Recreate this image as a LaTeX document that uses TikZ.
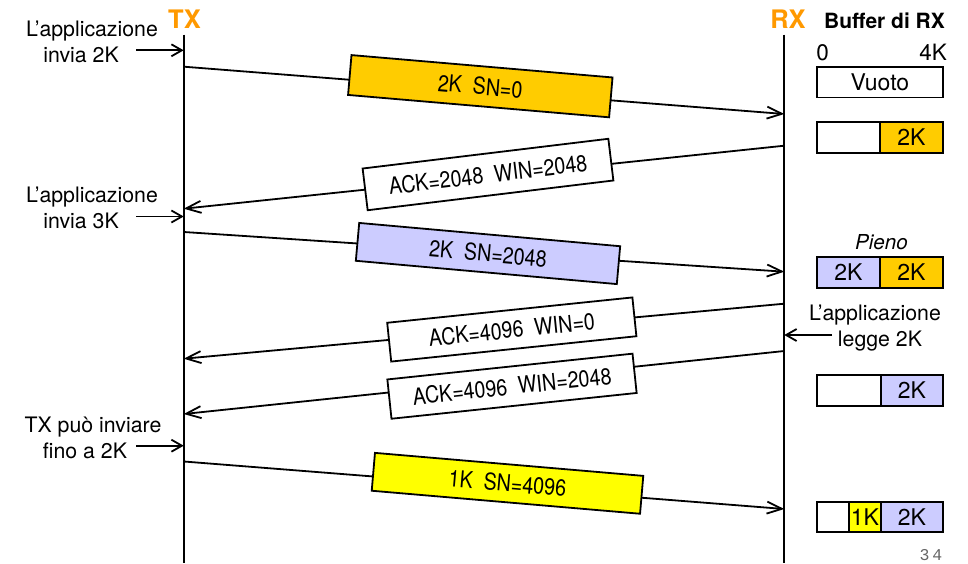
\documentclass[tikz,border=0pt]{standalone}
\usepackage{fontspec}
\setmainfont{TeX Gyre Heros}
\newfontfamily\msgfont[FakeStretch=0.85]{TeX Gyre Heros}
\newfontfamily\pagefont[LetterSpace=18]{Liberation Mono}
\usetikzlibrary{arrows.meta}
\definecolor{amber}{HTML}{FFCC00}
\definecolor{lav}{HTML}{CCCCFF}
\definecolor{yel}{HTML}{FFFF00}
\definecolor{org}{HTML}{FF9900}
\newcommand\bufraise[1]{\raisebox{-1.5pt}{#1}}
\tikzset{
  lifeline/.style={line width=2pt},
  msgline/.style={line width=1.8pt,-{Straight Barb[length=15pt,width=12pt,line width=1.8pt]}},
  apparrow/.style={line width=1.8pt,-{Straight Barb[length=10.5pt,width=12pt,line width=1.8pt]}},
  msgbox/.style={draw,line width=1.8pt,inner sep=0pt,outer sep=0pt,font=\fontsize{23.2}{27}\msgfont},
  lab/.style={inner sep=0pt,align=center,font=\fontsize{21.3}{26}\selectfont},
  head/.style={inner sep=0pt,text=org,font=\fontsize{25.5}{30}\bfseries},
  bufcell/.style={draw,line width=1.8pt,inner sep=0pt,outer sep=0pt,minimum height=30.5pt,font=\fontsize{23}{26}\selectfont},
  buftext/.style={inner sep=0pt,font=\fontsize{22.5}{26}\selectfont}
}
\begin{document}
\begin{tikzpicture}[x=1pt,y=-1pt]
\useasboundingbox (0,0) rectangle (968,563);
% lifeline ends
\coordinate (txtop) at (183.7,34.7);
\coordinate (txbot) at (183.7,563);
\coordinate (rxtop) at (784.3,34.7);
\coordinate (rxbot) at (784.3,563);
\draw[lifeline] (txtop) -- (txbot);
\draw[lifeline] (rxtop) -- (rxbot);
% message end points
\coordinate (s1) at (184,66.7);   \coordinate (r1) at (784.3,114);
\coordinate (r2) at (784.3,145.7);\coordinate (s2) at (183.7,208.7);
\coordinate (s3) at (184,232);    \coordinate (r3) at (784.3,271.7);
\coordinate (r4) at (784.3,303.7);\coordinate (s4) at (183.7,358.7);
\coordinate (r5) at (784.3,351);  \coordinate (s5) at (183.7,414);
\coordinate (s6) at (184,461.5);  \coordinate (r6) at (784.3,509);
\draw[msgline] (s1) -- (r1);
\draw[msgline] (r2) -- (s2);
\draw[msgline] (s3) -- (r3);
\draw[msgline] (r4) -- (s4);
\draw[msgline] (r5) -- (s5);
\draw[msgline] (s6) -- (r6);
% message boxes
\node[msgbox,fill=amber,minimum width=262pt,minimum height=40pt,rotate=-4.9] (m1) at (480.3,86.2) {2K~~SN=0};
\node[msgbox,fill=white,minimum width=247.5pt,minimum height=42pt,rotate=6.9] (m2) at (488,174.5) {ACK=2048~~WIN=2048};
\node[msgbox,fill=lav,minimum width=262pt,minimum height=38pt,rotate=-5.1] (m3) at (488,253.5) {2K~~SN=2048};
\node[msgbox,fill=white,minimum width=246.5pt,minimum height=39pt,rotate=5.9] (m4) at (511.8,329.5) {ACK=4096~~WIN=0};
\node[msgbox,fill=white,minimum width=246.5pt,minimum height=39.5pt,rotate=6] (m5) at (512,386.2) {ACK=4096~~WIN=2048};
\node[msgbox,fill=yel,minimum width=269.3pt,minimum height=38pt,rotate=-4.9] (m6) at (507.5,483.3) {1K~~SN=4096};
% headings
\node[head] (tx) at (184.5,19.5) {TX};
\node[head] (rx) at (788,19.5) {RX};
\node[inner sep=0pt,font=\fontsize{21}{24}\bfseries] (bufhead) at (884.5,20.5) {Buffer di RX};
% application labels
\node[lab] (a1) at (92,42) {L’applicazione\\invia 2K\hspace*{22pt}};
\node[lab] (a2) at (92,208) {L’applicazione\\invia 3K\hspace*{22pt}};
\node[lab] (a3) at (93,437.5) {TX può inviare\\fino a 2K\hspace*{16pt}};
\node[lab] (a4) at (875,328.5) {L’applicazione\\\hspace*{10pt}legge 2K};
\coordinate (a1e) at (136,50.3);  \coordinate (t1) at (183.7,50.3);
\coordinate (a2e) at (136,216.5); \coordinate (t2) at (183.7,216.5);
\coordinate (a3e) at (136,445.7); \coordinate (t3) at (183.7,445.7);
\coordinate (a4e) at (832,335);   \coordinate (t4) at (784.3,335);
\draw[apparrow] (a1e) -- (t1);
\draw[apparrow] (a2e) -- (t2);
\draw[apparrow] (a3e) -- (t3);
\draw[apparrow] (a4e) -- (t4);
% buffer scale
\node[buftext] (b0) at (822.7,52.5) {0};
\node[buftext] (b4) at (933,52.5) {4K};
% buffer states
\node[bufcell,minimum width=125.7pt,fill=white] (v) at (879.85,82.2) {\bufraise{Vuoto}};
\node[bufcell,minimum width=63pt,fill=white] (c2a) at (848.5,137.5) {};
\node[bufcell,minimum width=62.7pt,fill=amber] (c2b) at (911.35,137.5) {\bufraise{2K}};
\node[font=\fontsize{20.6}{24}\itshape,inner sep=0pt] (pieno) at (881.5,242.5) {Pieno};
\node[bufcell,minimum width=63pt,fill=lav] (c3a) at (848.5,272.5) {\bufraise{2K}};
\node[bufcell,minimum width=62.7pt,fill=amber] (c3b) at (911.35,272.5) {\bufraise{2K}};
\node[bufcell,minimum width=63.7pt,fill=white] (c4a) at (848.85,390.5) {};
\node[bufcell,minimum width=62.3pt,fill=lav] (c4b) at (911.85,390.5) {\bufraise{2K}};
\node[bufcell,minimum width=32.3pt,fill=white] (c5a) at (833.15,517) {};
\node[bufcell,minimum width=31.4pt,fill=yel] (c5b) at (865,517) {\bufraise{1K}};
\node[bufcell,minimum width=62.3pt,fill=lav] (c5c) at (911.85,517) {\bufraise{2K}};
% page number
\node[inner sep=0pt,text=black!60,font=\fontsize{16.5}{20}\pagefont] (pg) at (931,555.5) {34};
\end{tikzpicture}
\end{document}
